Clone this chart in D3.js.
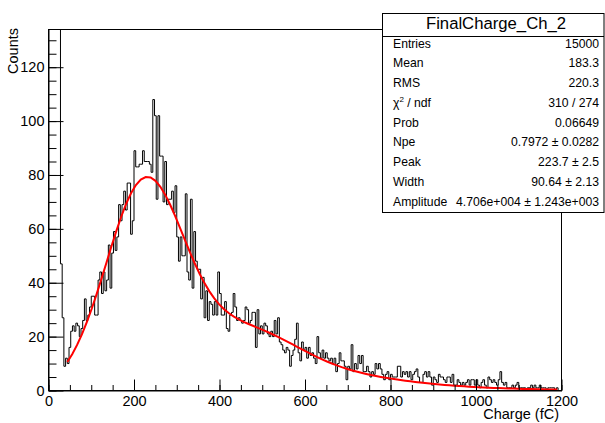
<!DOCTYPE html>
<html><head><meta charset="utf-8">
<script src="https://cdn.jsdelivr.net/npm/d3@7"></script>
<style>
body{margin:0;background:#fff;}
svg{display:block;font-family:"Liberation Sans",Arial,Helvetica,sans-serif;}
</style>
</head><body>
<svg id="c" width="605" height="423"></svg>
<script>
// ---- data ----
const binWidth = 4;          // fC per bin, histogram from 0 to 1200 fC
const counts = [
  1300,2800,2500,1200,450,300,150,47,27,9,
  12,10,16,22,24,22,25,24,20,23,
  26,34,26,28,31,35,35,28,28,41,
  44,36,44,37,41,54,38,51,59,52,
  57,69,63,69,74,67,77,77,58,63,
  89,83,83,84,84,89,85,85,85,84,
  81,108,102,71,102,87,87,70,85,69,
  71,71,74,66,76,57,48,57,50,50,
  73,44,41,71,38,59,48,45,45,34,
  42,27,37,26,33,32,28,33,28,44,
  36,28,28,33,23,22,28,29,36,31,
  26,27,26,25,26,31,30,25,26,29,
  29,16,30,21,24,21,25,24,21,20,
  22,20,26,21,27,18,17,15,14,16,
  15,9,13,15,19,25,14,11,18,15,
  16,12,16,13,14,12,10,20,14,12,
  15,12,14,12,11,12,10,12,7,10,
  14,11,11,9,4,9,8,17,7,10,
  8,13,10,13,7,7,9,7,5,7,
  6,10,8,10,8,6,4,6,7,4,
  6,5,5,5,9,9,5,7,6,7,
  5,7,4,6,7,8,5,3,3,6,
  7,5,7,5,2,5,4,3,6,5,
  5,4,3,5,5,3,6,2,2,4,
  3,2,3,2,3,4,2,4,4,2,
  4,2,1,3,4,2,1,5,4,3,
  4,3,2,4,7,3,2,3,1,1,
  1,2,1,2,3,1,1,1,1,0,
  1,1,2,1,2,1,1,2,1,1,
  1,0,1,1,1,1,0,1,0,0
];
const xDomain = [0, 1200];
const yDomain = [0, 134];
const xTicks = [0, 200, 400, 600, 800, 1000, 1200];
const yTicks = [0, 20, 40, 60, 80, 100, 120];
const xMinorStep = 50;
const yMinorStep = 5;
const statsTitle = "FinalCharge_Ch_2";
const statsLabels = ["Entries","Mean","RMS","chi2","Prob","Npe","Peak","Width","Amplitude"];
const statsValues = ["15000","183.3","220.3","310 / 274","0.06649","0.7972 \u00b1 0.0282","223.7 \u00b1 2.5","90.64 \u00b1 2.13","4.706e+004 \u00b1 1.243e+003"];
// fit parameters (Poisson-weighted sum of Gaussians)
const fitNpe = 0.7972, fitPeak = 223.7, fitWidth = 90.64, fitAmplitude = 4.706e4;
const fitRange = [44, 1190];

// ---- layout ----
const svg = d3.select("#c");
const L = 48.5, R = 561.5, T = 29.5, B = 390.5;
const x = d3.scaleLinear().domain(xDomain).range([L, R]);
const y = d3.scaleLinear().domain(yDomain).range([B, T]).clamp(true);

svg.append("rect").attr("width",605).attr("height",423).attr("fill","#fff");

// histogram step outline
const pts = [[x(0), y(0)]];
counts.forEach((c,i)=>{
  pts.push([x(i*binWidth), y(c)]);
  pts.push([x((i+1)*binWidth), y(c)]);
});
pts.push([x(counts.length*binWidth), y(0)]);
svg.append("path").attr("d", d3.line()(pts))
  .attr("fill","none").attr("stroke","#000").attr("stroke-width",1);

// fit curve
function fitFn(q){
  let s = 0, pn = Math.exp(-fitNpe);
  for(let n=1;n<=12;n++){
    pn = pn*fitNpe/n;
    const sig = Math.sqrt(n)*fitWidth;
    s += pn*Math.exp(-Math.pow(q-n*fitPeak,2)/(2*sig*sig))/(Math.sqrt(2*Math.PI)*sig);
  }
  return fitAmplitude*s;
}
const fx = d3.range(0,101).map(k=>fitRange[0]+(fitRange[1]-fitRange[0])*k/100);
svg.append("path").attr("d", d3.line().x(d=>x(d)).y(d=>y(fitFn(d)))(fx))
  .attr("fill","none").attr("stroke","#ff0000").attr("stroke-width",2);

// frame
svg.append("rect").attr("x",L).attr("y",T).attr("width",R-L).attr("height",B-T)
  .attr("fill","none").attr("stroke","#000").attr("stroke-width",1);

// axes
const fontSz = "14.5px";
function styleAxis(g){
  g.attr("font-family",null).attr("font-size",null);
  g.selectAll("text").attr("font-size",fontSz).attr("fill","#000")
    .attr("font-family",'"Liberation Sans",Arial,sans-serif');
  g.selectAll("line").attr("stroke","#000");
  g.select(".domain").attr("stroke","#000");
}
const xMinor = d3.range(xDomain[0], xDomain[1]+1, xMinorStep);
const yMinor = d3.range(yDomain[0], yDomain[1], yMinorStep);
svg.append("g").attr("transform",`translate(0,${B})`)
  .call(d3.axisBottom(x).tickValues(xMinor).tickSize(-5.5).tickFormat(""))
  .call(g=>g.select(".domain").remove()).call(styleAxis);
svg.append("g").attr("transform",`translate(0,${B})`)
  .call(d3.axisBottom(x).tickValues(xTicks).tickSize(-11).tickSizeOuter(0).tickPadding(5).tickFormat(d3.format("d")))
  .call(styleAxis);
svg.append("g").attr("transform",`translate(${L},0)`)
  .call(d3.axisLeft(y).tickValues(yMinor).tickSize(-8).tickFormat(""))
  .call(g=>g.select(".domain").remove()).call(styleAxis);
svg.append("g").attr("transform",`translate(${L},0)`)
  .call(d3.axisLeft(y).tickValues(yTicks).tickSize(-15).tickSizeOuter(0).tickPadding(4).tickFormat(d3.format("d")))
  .call(styleAxis);

// axis titles
svg.append("text").attr("x",559).attr("y",419).attr("text-anchor","end")
  .attr("font-size",fontSz).text("Charge (fC)");
svg.append("text").attr("transform","translate(18,28) rotate(-90)").attr("text-anchor","end")
  .attr("font-size",fontSz).text("Counts");

// stats box
const bx = 382.5, by = 13.5, bw = 221.5, bh = 199;
svg.append("rect").attr("x",bx).attr("y",by).attr("width",bw).attr("height",bh)
  .attr("fill","#fff").attr("stroke","#000").attr("stroke-width",1);
svg.append("line").attr("x1",bx).attr("x2",bx+bw).attr("y1",36.5).attr("y2",36.5).attr("stroke","#000");
svg.append("text").attr("x",496).attr("y",29).attr("text-anchor","middle")
  .attr("font-size","16.7px").text(statsTitle);
statsLabels.forEach((lab,k)=>{
  const yy = 47.5 + 19.75*k;
  const t = svg.append("text").attr("x",393).attr("y",yy).attr("font-size","12.2px");
  if(lab==="chi2"){
    t.append("tspan").text("\u03c7");
    t.append("tspan").attr("font-size","8px").attr("dy",-5).text("2");
    t.append("tspan").attr("dy",5).text(" / ndf");
  } else t.text(lab);
  svg.append("text").attr("x",599).attr("y",yy).attr("text-anchor","end")
    .attr("font-size","12.2px").text(statsValues[k]);
});
</script>
</body></html>
